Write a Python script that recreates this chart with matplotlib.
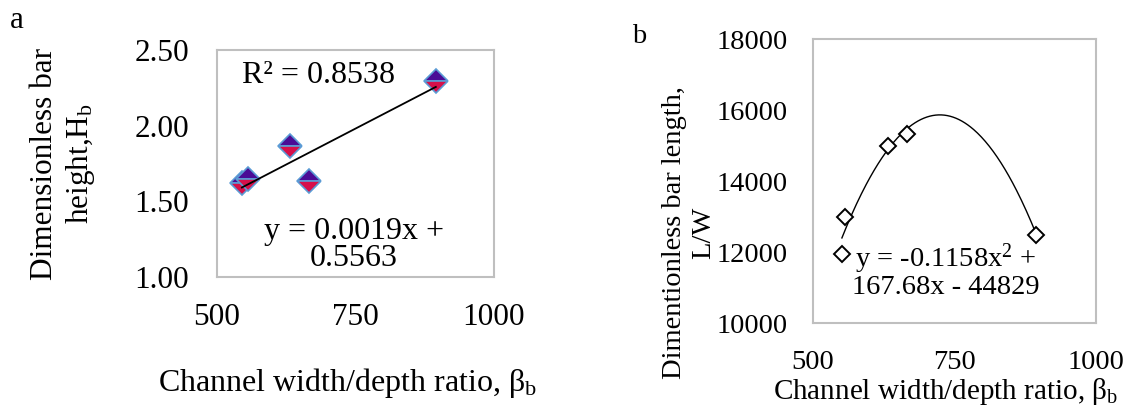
import numpy as np
import matplotlib
matplotlib.use('Agg')
import matplotlib.pyplot as plt

plt.rcParams['font.family'] = ['Liberation Serif', 'DejaVu Serif']
plt.rcParams['mathtext.fontset'] = 'custom'
plt.rcParams['mathtext.rm'] = 'Liberation Serif'
plt.rcParams['mathtext.it'] = 'Liberation Serif'

# channel width/depth ratio
beta_a = [545, 556, 632, 666, 895]
height_a = [1.62, 1.645, 1.865, 1.633, 2.295]
beta_b = [551, 556, 632, 666, 894]
length_b = [11950, 13000, 15000, 15320, 12480]

lin_coef = [0.0019, 0.5563]
quad_coef = [-0.1158, 167.68, -44829]

fig = plt.figure(figsize=(11.33, 4.11), dpi=100)

# ---- panel a
ax1 = fig.add_axes([0.1915, 0.326, 0.2445, 0.552])
xs = np.linspace(min(beta_a), max(beta_a), 50)
ax1.plot(xs, np.polyval(lin_coef, xs), color='black', lw=1.3, zorder=3)
ax1.plot(beta_a, height_a, ls='none', marker='D', ms=12.5, fillstyle='top',
         markerfacecolor='#4a0c96', markerfacecoloralt='#d6104a',
         markeredgecolor='#5b9bd5', mew=1.2, zorder=2)
ax1.set_xlim(500, 1000)
ax1.set_ylim(1.0, 2.5)
ax1.set_xticks([500, 750, 1000])
ax1.set_yticks([1.0, 1.5, 2.0, 2.5])
ax1.set_yticklabels(['1.00', '1.50', '2.00', '2.50'])
ax1.tick_params(axis='both', length=0, labelsize=22.5)
ax1.tick_params(axis='y', pad=20)
ax1.tick_params(axis='x', pad=19)
ax1.set_xlabel(r'Channel width/depth ratio, $\mathregular{\beta_b}$', fontsize=23, labelpad=24)
ax1.xaxis.label.set_x(0.47)
ax1.set_ylabel('Dimensionless bar\nheight,H$_\\mathregular{b}$', fontsize=22.5)
ax1.yaxis.set_label_coords(-0.433, 0.5)
ax1.text(0.089, 0.89, 'R² = 0.8538', transform=ax1.transAxes, fontsize=23, va='center')
ax1.text(0.495, 0.141, 'y = 0.0019x +\n0.5563', transform=ax1.transAxes, fontsize=23,
         ha='center', va='center', linespacing=0.92)
for s in ax1.spines.values():
    s.set_color('#bfbfbf')
    s.set_linewidth(1.5)
fig.text(0.009, 0.951, 'a', fontsize=22.5, va='center')

# ---- panel b
ax2 = fig.add_axes([0.7176, 0.2133, 0.2498, 0.691])
xq = np.linspace(min(beta_b), max(beta_b), 200)
ax2.plot(xq, np.polyval(quad_coef, xq), color='black', lw=1.0, zorder=3)
ax2.plot(beta_b, length_b, ls='none', marker='D', ms=8.5, markerfacecolor='white',
         markeredgecolor='black', mew=1.4, zorder=4)
ax2.set_xlim(500, 1000)
ax2.set_ylim(10000, 18000)
ax2.set_xticks([500, 750, 1000])
ax2.set_yticks([10000, 12000, 14000, 16000, 18000])
ax2.tick_params(axis='both', length=0, labelsize=20.5)
ax2.tick_params(axis='y', pad=18)
ax2.tick_params(axis='x', pad=19)
ax2.set_xlabel(r'Channel width/depth ratio, $\mathregular{\beta_b}$', fontsize=21, labelpad=1)
ax2.xaxis.label.set_x(0.468)
ax2.set_ylabel('Dimentionless bar length,\nL/W', fontsize=20.5)
ax2.yaxis.set_label_coords(-0.343, 0.318)
ax2.text(0.47, 0.184, 'y = -0.1158x$^\\mathregular{2}$ +\n167.68x - 44829', transform=ax2.transAxes,
         fontsize=20.5, ha='center', va='center', linespacing=0.95)
for s in ax2.spines.values():
    s.set_color('#bfbfbf')
    s.set_linewidth(1.5)
fig.text(0.558, 0.91, 'b', fontsize=20.5, va='center')

fig.savefig('out.png', dpi=100)
